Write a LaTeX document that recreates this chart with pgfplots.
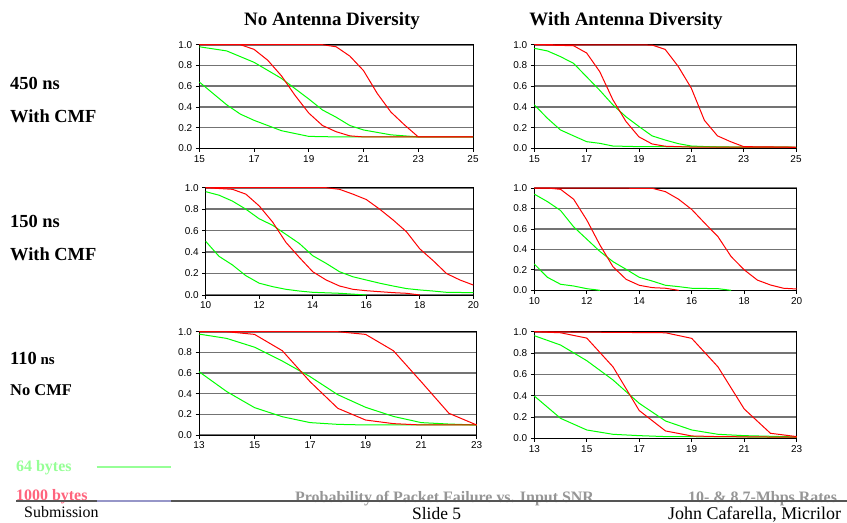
\documentclass[border=0pt]{standalone}
\usepackage{fontspec}
\setmainfont{Liberation Serif}
\newfontfamily\arialfont{Liberation Sans}
\usepackage{pgfplots}
\pgfplotsset{compat=1.18}
\definecolor{cgreen}{RGB}{0,255,0}
\definecolor{cred}{RGB}{255,0,0}
\definecolor{gridgray}{RGB}{115,115,115}
\definecolor{lgreen}{RGB}{150,255,150}
\definecolor{lred}{RGB}{255,100,125}
\definecolor{ftgray}{RGB}{150,150,150}
\definecolor{lav}{RGB}{150,150,200}
\definecolor{ftline}{RGB}{85,85,85}
\pgfplotsset{
  panel/.style={
    scale only axis,
    anchor=north west,
    clip=false,
    ymin=0, ymax=1,
    ytick={0,0.2,0.4,0.6,0.8,1.0},
    tick pos=left,
    tick align=outside,
    major tick length=3.5bp,
    axis line style={black, line width=0.9bp},
    every tick/.style={black, line width=0.7bp},
    ymajorgrids,
    grid style={gridgray, line width=1.6bp},
    tick label style={font=\arialfont\fontsize{10}{11}\selectfont, /pgf/number format/assume math mode=true},
    yticklabel style={/pgf/number format/.cd, fixed, fixed zerofill, precision=1, assume math mode=true},
    xticklabel style={/pgf/number format/.cd, fixed, precision=0, assume math mode=true},
    every axis plot/.append style={line width=1bp, no markers},
  },
  g/.style={cgreen, line width=1bp},
  r/.style={cred, line width=1bp},
}
\begin{document}
\begin{tikzpicture}
\path[use as bounding box] (0,0) rectangle (847bp,-523bp);
\begin{scope}
\clip (0,0) rectangle (847bp,-523bp);

% Titles
\node[anchor=base, font=\bfseries\fontsize{19}{22}\selectfont, inner sep=0] at (332bp,-25bp) {No Antenna Diversity};
\node[anchor=base, font=\bfseries\fontsize{19}{22}\selectfont, inner sep=0] at (626bp,-25bp) {With Antenna Diversity};

% Row labels
\node[anchor=base west, font=\bfseries\fontsize{18.5}{22}\selectfont, inner sep=0] at (10bp,-89bp) {450 ns};
\node[anchor=base west, font=\bfseries\fontsize{18.5}{22}\selectfont, inner sep=0] at (10bp,-122bp) {With CMF};
\node[anchor=base west, font=\bfseries\fontsize{18.5}{22}\selectfont, inner sep=0] at (10bp,-227bp) {150 ns};
\node[anchor=base west, font=\bfseries\fontsize{18.5}{22}\selectfont, inner sep=0] at (10bp,-260bp) {With CMF};
\node[anchor=base west, font=\bfseries\fontsize{18.5}{22}\selectfont, inner sep=0] at (10bp,-364bp) {110{\fontsize{15}{18}\selectfont\ ns}};
\node[anchor=base west, font=\bfseries\fontsize{16.5}{20}\selectfont, inner sep=0] at (10bp,-395bp) {No CMF};

% Panel 1
\begin{axis}[panel, at={(199.3bp,-44.7bp)}, width=273.7bp, height=103.6bp,
  xmin=15, xmax=25, xtick={15,17,19,21,23,25}]
\addplot[g] coordinates {(15,0.64)(16,0.42)(16.5,0.33)(17,0.27)(18,0.17)(19,0.115)(20,0.11)(25,0.11)};
\addplot[g] coordinates {(15,0.98)(16,0.94)(17,0.83)(18,0.675)(19,0.476)(19.5,0.37)(20,0.30)(20.5,0.22)(21,0.177)(22,0.13)(23,0.11)(25,0.11)};
\addplot[r] coordinates {(15,1)(16.5,1)(17,0.955)(17.5,0.85)(18,0.70)(18.5,0.51)(19,0.34)(19.5,0.22)(20,0.16)(20.5,0.12)(21,0.11)(25,0.11)};
\addplot[r] coordinates {(15,1)(19.5,1)(20,0.98)(20.5,0.89)(21,0.75)(21.5,0.53)(22,0.35)(22.5,0.225)(23,0.11)(25,0.11)};
\end{axis}

% Panel 2
\begin{axis}[panel, at={(534.3bp,-44.7bp)}, width=261.7bp, height=103.6bp,
  xmin=15, xmax=25, xtick={15,17,19,21,23,25}]
\addplot[g] coordinates {(15,0.42)(15.5,0.29)(16,0.177)(16.5,0.12)(17,0.064)(17.5,0.048)(18,0.022)(19,0.016)(25,0.01)};
\addplot[g] coordinates {(15,0.965)(15.5,0.94)(16,0.885)(16.5,0.82)(17,0.69)(17.5,0.56)(18,0.42)(18.5,0.305)(19,0.21)(19.5,0.12)(20,0.08)(20.5,0.045)(21,0.022)(22,0.012)(25,0.01)};
\addplot[r] coordinates {(15,1)(16.5,0.99)(17,0.92)(17.5,0.74)(18,0.47)(18.5,0.26)(19,0.11)(19.5,0.042)(20,0.02)(21,0.012)(25,0.01)};
\addplot[r] coordinates {(15,1)(19.5,0.997)(20,0.955)(20.5,0.79)(21,0.58)(21.5,0.27)(22,0.12)(22.5,0.064)(23,0.016)(25,0.01)};
\end{axis}

% Panel 3
\begin{axis}[panel, at={(205.7bp,-187.7bp)}, width=267.6bp, height=107.3bp,
  xmin=10, xmax=20, xtick={10,12,14,16,18,20}]
\addplot[g] coordinates {(10,0.50)(10.5,0.36)(11,0.28)(11.5,0.18)(12,0.11)(12.5,0.078)(13,0.053)(13.5,0.037)(14,0.025)(15,0.016)(16,0)};
\addplot[g] coordinates {(10,0.963)(10.5,0.93)(11,0.875)(11.5,0.80)(12,0.71)(12.5,0.65)(13,0.565)(13.5,0.48)(14,0.366)(14.5,0.295)(15,0.217)(15.5,0.17)(16,0.14)(16.5,0.11)(17,0.084)(17.5,0.06)(18,0.047)(18.5,0.037)(19,0.025)(20,0.022)};
\addplot[r] coordinates {(10,1)(11,0.985)(11.5,0.94)(12,0.83)(12.5,0.68)(13,0.49)(13.5,0.35)(14,0.217)(14.5,0.14)(15,0.084)(15.5,0.053)(16,0.04)(17,0.022)(17.5,0.016)(18,0)};
\addplot[r] coordinates {(10,1)(14.5,1)(15,0.985)(15.5,0.94)(16,0.89)(16.5,0.80)(17,0.70)(17.5,0.59)(18,0.43)(18.5,0.32)(19,0.20)(19.5,0.14)(20,0.093)};
\end{axis}

% Panel 4
\begin{axis}[panel, at={(534.3bp,-188bp)}, width=262.4bp, height=102.3bp,
  xmin=10, xmax=20, xtick={10,12,14,16,18,20}]
\addplot[g] coordinates {(10,0.257)(10.5,0.127)(11,0.059)(11.5,0.042)(12,0.016)(12.5,0)};
\addplot[g] coordinates {(10,0.94)(10.5,0.867)(11,0.78)(11.5,0.62)(12,0.50)(12.5,0.38)(13,0.28)(13.5,0.205)(14,0.127)(14.5,0.09)(15,0.049)(15.5,0.036)(16,0.02)(17,0.016)(17.5,0)};
\addplot[r] coordinates {(10,1)(10.5,1)(11,0.987)(11.5,0.89)(12,0.687)(12.5,0.443)(13,0.23)(13.5,0.107)(14,0.049)(14.5,0.026)(15,0.02)(15.5,0)};
\addplot[r] coordinates {(10,1)(14.5,0.997)(15,0.964)(15.5,0.89)(16,0.79)(16.5,0.655)(17,0.524)(17.5,0.33)(18,0.2)(18.5,0.1)(19,0.052)(19.5,0.02)(20,0.013)};
\end{axis}

% Panel 5
\begin{axis}[panel, at={(199bp,-331.7bp)}, width=277.7bp, height=103.3bp,
  xmin=13, xmax=23, xtick={13,15,17,19,21,23}]
\addplot[g] coordinates {(13,0.613)(14,0.42)(15,0.265)(16,0.177)(17,0.12)(18,0.103)(19,0.097)(23,0.097)};
\addplot[g] coordinates {(13,0.977)(14,0.935)(15,0.85)(16,0.716)(17,0.565)(18,0.39)(19,0.268)(20,0.18)(21,0.12)(22,0.106)(23,0.097)};
\addplot[r] coordinates {(13,1)(14,1)(15,0.974)(16,0.816)(17,0.516)(18,0.258)(19,0.145)(20,0.11)(21,0.097)(23,0.097)};
\addplot[r] coordinates {(13,1)(18,1)(19,0.974)(20,0.816)(21,0.516)(22,0.21)(23,0.097)};
\end{axis}

% Panel 6
\begin{axis}[panel, at={(534.3bp,-331.7bp)}, width=262.4bp, height=106.6bp,
  xmin=13, xmax=23, xtick={13,15,17,19,21,23}]
\addplot[g] coordinates {(13,0.397)(14,0.1875)(15,0.078)(16,0.0375)(17,0.025)(18,0.016)(23,0.01)};
\addplot[g] coordinates {(13,0.9625)(14,0.875)(15,0.728)(16,0.547)(17,0.328)(18,0.1625)(19,0.078)(20,0.0375)(21,0.025)(22,0.019)(23,0.0125)};
\addplot[r] coordinates {(13,1)(14,0.99)(15,0.94)(16,0.67)(17,0.26)(18,0.069)(19,0.022)(20,0.016)(23,0.01)};
\addplot[r] coordinates {(13,1)(18,0.99)(19,0.9375)(20,0.67)(21,0.275)(22,0.047)(23,0.016)};
\end{axis}

% Footer
\draw[lgreen, line width=1.2bp] (96.5bp,-467bp) -- (171bp,-467bp);
\node[anchor=base west, font=\bfseries\fontsize{16}{19}\selectfont, text=lgreen, inner sep=0] at (16bp,-471bp) {64 bytes};
\node[anchor=base west, font=\bfseries\fontsize{16}{19}\selectfont, text=lred, inner sep=0] at (16bp,-500bp) {1000 bytes};
\node[anchor=base west, font=\bfseries\fontsize{16}{19}\selectfont, text=ftgray, inner sep=0] at (295bp,-502.5bp) {Probability of Packet Failure vs. Input SNR};
\node[anchor=base west, font=\bfseries\fontsize{16}{19}\selectfont, text=ftgray, inner sep=0] at (688bp,-502bp) {10- \& 8.7-Mbps Rates};
\draw[ftline, line width=2bp] (16bp,-501bp) -- (847bp,-501bp);
\draw[lav, line width=2.2bp] (96.5bp,-501bp) -- (171bp,-501bp);
\node[anchor=base west, font=\fontsize{16}{19}\selectfont, inner sep=0] at (24bp,-517bp) {Submission};
\node[anchor=base west, font=\fontsize{17.5}{21}\selectfont, inner sep=0] at (412bp,-519.5bp) {Slide 5};
\node[anchor=base west, font=\fontsize{18}{21}\selectfont, inner sep=0] at (668bp,-519.5bp) {John Cafarella, Micrilor};
\end{scope}
\end{tikzpicture}
\end{document}
